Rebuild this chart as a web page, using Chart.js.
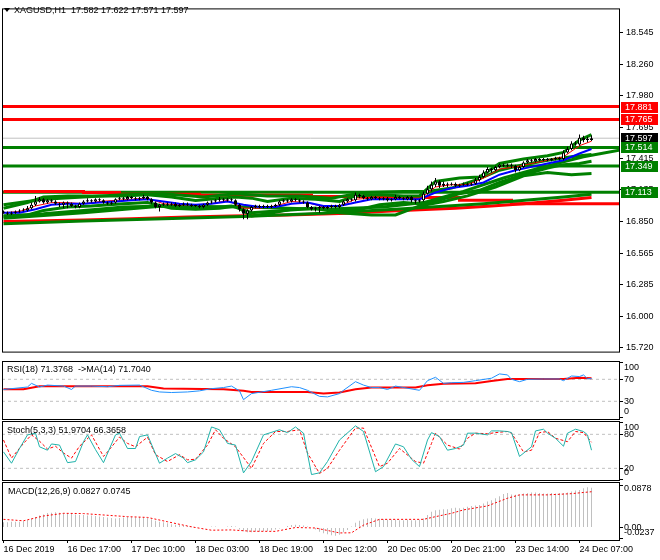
<!DOCTYPE html>
<html>
<head>
<meta charset="utf-8">
<title>XAGUSD H1</title>
<script src="https://cdn.jsdelivr.net/npm/chart.js@4.4.1/dist/chart.umd.min.js"></script>
<style>
  html, body { margin: 0; padding: 0; background: #fff; }
  #wrap { position: relative; width: 660px; height: 560px; overflow: hidden; font-family: 'Liberation Sans', Arial, sans-serif; }
  #wrap canvas { position: absolute; left: 0; }
  .cap { position: absolute; font-size: 9px; line-height: 11px; color: #000; white-space: pre; z-index: 2; }
  .tri { position: absolute; left: 4px; top: 8px; width: 0; height: 0; border-left: 3px solid transparent; border-right: 3px solid transparent; border-top: 4px solid #000; z-index: 2; }
</style>
</head>
<body>
<div id="wrap">
  <canvas id="mainChart" width="660" height="360" style="top:0"></canvas>
  <canvas id="rsiChart" width="660" height="60" style="top:360px"></canvas>
  <canvas id="stochChart" width="660" height="61" style="top:420px"></canvas>
  <canvas id="macdChart" width="660" height="79" style="top:481px"></canvas>
  <div class="tri"></div>
  <div class="cap" style="left:14px;top:5px">XAGUSD,H1  17.582 17.622 17.571 17.597</div>
  <div class="cap" style="left:7px;top:364px">RSI(18) 71.3768  -&gt;MA(14) 71.7040</div>
  <div class="cap" style="left:7px;top:425px">Stoch(5,3,3) 51.9704 66.3658</div>
  <div class="cap" style="left:8px;top:486px">MACD(12,26,9) 0.0827 0.0745</div>
</div>
<script>
Chart.defaults.font.family = "'Liberation Sans', Arial, sans-serif";
Chart.defaults.font.size = 9;
Chart.defaults.color = '#000';

var FONT = "9px 'Liberation Sans', Arial, sans-serif";
var RED = '#ff0000', GREEN = '#008000', BLUE = '#0000ff', SILVER = '#c0c0c0';
var X_MIN = -0.375, X_MAX = 153.875;

// time axis (bar index of each label)
var timeIdx = [0, 16, 32, 48, 64, 80, 96, 112, 128, 144];
var timeLabels = ['16 Dec 2019', '16 Dec 17:00', '17 Dec 10:00', '18 Dec 03:00', '18 Dec 19:00',
    '19 Dec 12:00', '20 Dec 05:00', '20 Dec 21:00', '23 Dec 14:00', '24 Dec 07:00'];

// price axis
var priceTicks = [18.545, 18.260, 17.980, 17.695, 17.415, 17.135, 16.850, 16.565, 16.285, 16.000, 15.720];

// H1 candles
var opens = [
    16.94, 16.93, 16.92, 16.93, 16.94, 16.95, 16.95, 16.97, 17.00, 17.03,
    17.05, 17.02, 17.04, 17.03, 17.01, 17.00, 17.02, 17.01, 16.99, 16.98,
    17.01, 17.03, 17.04, 17.03, 17.05, 17.04, 17.02, 17.01, 17.02, 17.05,
    17.06, 17.05, 17.07, 17.06, 17.05, 17.06, 17.07, 17.05, 17.02, 16.98,
    17.00, 17.01, 17.00, 17.01, 16.99, 17.00, 17.01, 17.00, 16.99, 16.99,
    16.98, 17.00, 17.02, 17.03, 17.04, 17.05, 17.04, 17.05, 17.04, 17.00,
    16.96, 16.92, 16.95, 16.98, 16.99, 16.98, 16.99, 16.98, 16.99, 17.00,
    17.03, 17.04, 17.03, 17.05, 17.04, 17.03, 17.02, 16.98, 16.96, 16.97,
    16.98, 16.97, 16.98, 16.99, 16.98, 17.00, 17.03, 17.05, 17.04, 17.09,
    17.08, 17.06, 17.05, 17.07, 17.06, 17.05, 17.06, 17.04, 17.05, 17.07,
    17.06, 17.05, 17.07, 17.04, 17.03, 17.04, 17.10, 17.14, 17.18, 17.21,
    17.17, 17.19, 17.18, 17.19, 17.17, 17.18, 17.19, 17.18, 17.19, 17.22,
    17.25, 17.29, 17.32, 17.31, 17.34, 17.36, 17.35, 17.36, 17.35, 17.31,
    17.34, 17.38, 17.40, 17.39, 17.41, 17.40, 17.41, 17.40, 17.41, 17.42,
    17.41, 17.47, 17.50, 17.55, 17.54, 17.60, 17.58, 17.582];
var highs = [
    16.95, 16.94, 16.94, 16.95, 16.96, 16.97, 16.99, 17.02, 17.08, 17.07,
    17.06, 17.05, 17.05, 17.04, 17.02, 17.03, 17.03, 17.02, 17.00, 17.02,
    17.04, 17.06, 17.05, 17.06, 17.06, 17.05, 17.03, 17.03, 17.06, 17.07,
    17.07, 17.08, 17.08, 17.07, 17.07, 17.09, 17.08, 17.06, 17.03, 17.01,
    17.02, 17.02, 17.02, 17.02, 17.01, 17.02, 17.02, 17.01, 17.00, 17.00,
    17.01, 17.03, 17.04, 17.05, 17.07, 17.06, 17.06, 17.06, 17.05, 17.01,
    16.97, 16.96, 16.99, 17.00, 17.00, 17.00, 17.00, 17.00, 17.01, 17.04,
    17.05, 17.05, 17.06, 17.06, 17.05, 17.04, 17.03, 16.99, 16.98, 16.99,
    16.99, 16.99, 17.00, 17.00, 17.01, 17.04, 17.06, 17.06, 17.11, 17.10,
    17.09, 17.07, 17.08, 17.08, 17.07, 17.07, 17.07, 17.06, 17.09, 17.08,
    17.07, 17.08, 17.08, 17.05, 17.05, 17.12, 17.17, 17.21, 17.24, 17.22,
    17.21, 17.20, 17.20, 17.20, 17.19, 17.20, 17.20, 17.20, 17.24, 17.27,
    17.31, 17.34, 17.33, 17.35, 17.37, 17.37, 17.37, 17.37, 17.36, 17.35,
    17.39, 17.41, 17.41, 17.42, 17.42, 17.42, 17.42, 17.42, 17.43, 17.43,
    17.49, 17.52, 17.57, 17.57, 17.63, 17.62, 17.61, 17.622];
var lows = [
    16.92, 16.91, 16.91, 16.92, 16.93, 16.94, 16.94, 16.96, 16.99, 17.02,
    17.01, 17.01, 17.02, 17.00, 16.98, 16.97, 16.97, 16.98, 16.97, 16.97,
    17.00, 17.02, 17.02, 17.02, 17.03, 17.01, 17.00, 17.00, 17.01, 17.04,
    17.04, 17.04, 17.05, 17.04, 17.04, 17.05, 17.04, 17.01, 16.97, 16.94,
    16.99, 16.99, 16.99, 16.98, 16.98, 16.99, 16.99, 16.98, 16.98, 16.97,
    16.97, 16.99, 17.01, 17.02, 17.03, 17.03, 17.03, 17.03, 16.99, 16.94,
    16.87, 16.87, 16.94, 16.97, 16.97, 16.97, 16.97, 16.97, 16.98, 16.99,
    17.02, 17.02, 17.02, 17.03, 17.02, 17.01, 16.97, 16.95, 16.94, 16.93,
    16.96, 16.96, 16.97, 16.97, 16.97, 16.99, 17.02, 17.03, 17.03, 17.06,
    17.05, 17.04, 17.04, 17.05, 17.04, 17.04, 17.03, 17.03, 17.04, 17.05,
    17.04, 17.04, 17.02, 17.01, 17.02, 17.03, 17.09, 17.12, 17.16, 17.15,
    17.16, 17.16, 17.17, 17.16, 17.16, 17.17, 17.17, 17.17, 17.18, 17.21,
    17.24, 17.28, 17.29, 17.30, 17.33, 17.34, 17.34, 17.33, 17.29, 17.30,
    17.33, 17.37, 17.38, 17.38, 17.39, 17.39, 17.39, 17.39, 17.40, 17.40,
    17.40, 17.46, 17.49, 17.53, 17.53, 17.56, 17.56, 17.571];
var closes = [
    16.93, 16.92, 16.93, 16.94, 16.95, 16.95, 16.97, 17.00, 17.03, 17.05,
    17.02, 17.04, 17.03, 17.01, 17.00, 17.02, 17.01, 16.99, 16.98, 17.01,
    17.03, 17.04, 17.03, 17.05, 17.04, 17.02, 17.01, 17.02, 17.05, 17.06,
    17.05, 17.07, 17.06, 17.05, 17.06, 17.07, 17.05, 17.02, 16.98, 17.00,
    17.01, 17.00, 17.01, 16.99, 17.00, 17.01, 17.00, 16.99, 16.99, 16.98,
    17.00, 17.02, 17.03, 17.04, 17.05, 17.04, 17.05, 17.04, 17.00, 16.96,
    16.92, 16.95, 16.98, 16.99, 16.98, 16.99, 16.98, 16.99, 17.00, 17.03,
    17.04, 17.03, 17.05, 17.04, 17.03, 17.02, 16.98, 16.96, 16.97, 16.98,
    16.97, 16.98, 16.99, 16.98, 17.00, 17.03, 17.05, 17.04, 17.09, 17.08,
    17.06, 17.05, 17.07, 17.06, 17.05, 17.06, 17.04, 17.05, 17.07, 17.06,
    17.05, 17.07, 17.04, 17.03, 17.04, 17.10, 17.14, 17.18, 17.21, 17.17,
    17.19, 17.18, 17.19, 17.17, 17.18, 17.19, 17.18, 17.19, 17.22, 17.25,
    17.29, 17.32, 17.31, 17.34, 17.36, 17.35, 17.36, 17.35, 17.31, 17.34,
    17.38, 17.40, 17.39, 17.41, 17.40, 17.41, 17.40, 17.41, 17.42, 17.41,
    17.47, 17.50, 17.55, 17.54, 17.60, 17.58, 17.582, 17.597];
var lastPrice = 17.597;

// horizontal levels and price tags
var levelValues = [17.881, 17.765, 17.514, 17.349, 17.113];
var levelColors = [RED, RED, GREEN, GREEN, GREEN];
var tagValues = [17.881, 17.765, 17.597, 17.514, 17.349, 17.113];
var tagColors = [RED, RED, '#000', GREEN, GREEN, GREEN];

// moving averages (bar index / value)
var maIdx = [0, 4, 8, 12, 16, 20, 24, 28, 32, 36, 40, 44, 48, 52, 56, 60, 64, 68, 72, 76,
    80, 84, 88, 92, 96, 100, 104, 108, 112, 116, 120, 124, 128, 132, 136, 140, 144, 147];
var maFast = [16.93, 16.94, 16.99, 17.02, 17.02, 17.01, 17.03, 17.04, 17.05, 17.06,
    17.01, 17.00, 17.00, 17.01, 17.04, 16.97, 16.97, 16.99, 17.03, 17.02,
    16.98, 16.99, 17.05, 17.06, 17.05, 17.05, 17.05, 17.16, 17.18, 17.18,
    17.24, 17.32, 17.34, 17.37, 17.40, 17.43, 17.53, 17.57];
var maSlow = [16.93, 16.93, 16.96, 17.00, 17.01, 17.01, 17.02, 17.03, 17.04, 17.05,
    17.03, 17.01, 17.00, 17.01, 17.03, 17.00, 16.98, 16.98, 17.01, 17.02,
    16.99, 16.99, 17.02, 17.05, 17.05, 17.05, 17.05, 17.11, 17.15, 17.17,
    17.20, 17.27, 17.31, 17.34, 17.37, 17.40, 17.46, 17.50];

// fast bands
var bandIdx = [0, 6, 10, 16, 22, 30, 36, 42, 48, 54, 58, 62, 66, 72, 78, 84, 88, 94, 100, 104,
    108, 114, 119, 124, 130, 136, 140, 144, 147];
var bandUp = [16.97, 17.02, 17.07, 17.08, 17.08, 17.08, 17.09, 17.07, 17.04, 17.06,
    17.07, 17.06, 17.03, 17.06, 17.05, 17.03, 17.08, 17.09, 17.08, 17.08,
    17.21, 17.24, 17.25, 17.37, 17.41, 17.44, 17.47, 17.58, 17.63];
var bandDn = [16.90, 16.91, 16.95, 16.98, 16.99, 17.01, 17.02, 16.97, 16.96, 16.97,
    16.99, 16.90, 16.92, 16.96, 16.97, 16.95, 16.95, 17.00, 17.02, 17.01,
    17.03, 17.10, 17.13, 17.20, 17.27, 17.33, 17.36, 17.37, 17.39];

// slow bands
var slowUpIdx = [0, 10, 20, 30, 40, 50, 58, 66, 74, 82, 90, 100, 106, 112, 118, 124, 130, 136, 142, 147];
var slowUp = [17.00, 17.05, 17.07, 17.09, 17.10, 17.07, 17.10, 17.08, 17.08, 17.06,
    17.11, 17.12, 17.12, 17.15, 17.22, 17.31, 17.36, 17.40, 17.43, 17.45];
var slowDnIdx = [0, 10, 20, 30, 40, 50, 57, 62, 70, 78, 84, 92, 98, 104, 110, 116, 123, 130, 136, 142, 147];
var slowDn = [16.90, 16.92, 16.95, 16.98, 16.99, 16.97, 16.99, 16.93, 16.95, 16.97,
    16.93, 16.91, 16.91, 16.99, 17.03, 17.08, 17.16, 17.26, 17.29, 17.27, 17.28];

// shifted line running past the last bar
var shiftIdx = [0, 20, 40, 60, 80, 95, 105, 115, 125, 135, 145, 154];
var shiftVals = [16.88, 16.93, 16.99, 16.98, 16.96, 16.98, 17.02, 17.12, 17.24, 17.34, 17.43, 17.49];

// long-period lines
var baseGreenIdx = [0, 20, 40, 60, 80, 100, 120, 140, 147];
var baseGreen = [16.83, 16.855, 16.875, 16.895, 16.925, 16.965, 17.01, 17.07, 17.095];
var baseRedIdx = [0, 20, 32, 46, 57, 71, 86, 97, 104, 113, 122, 130, 140, 147];
var baseRed = [16.85, 16.865, 16.875, 16.89, 16.90, 16.91, 16.925, 16.945, 16.955, 16.97, 16.99, 17.01, 17.04, 17.065];
var stepRedIdx = [0, 20, 29, 49, 77, 94, 114, 127, 154];
var stepRed = [17.12, 17.11, 17.095, 17.085, 17.075, 17.065, 17.04, 17.01, 17.01];

// RSI(18) and its MA(14)
var rsiIdx = [0, 6, 7, 9, 11, 15, 17, 18, 22, 26, 29, 34, 37, 39, 42, 46, 49, 52, 55, 57,
    59, 60, 62, 67, 72, 74, 76, 79, 81, 84, 85, 88, 90, 92, 94, 96, 98, 100, 104, 106,
    108, 110, 112, 115, 118, 122, 124, 126, 127, 129, 131, 135, 139, 140, 142, 144, 145, 146, 147];
var rsiVals = [51.5, 56, 62.6, 56, 59.5, 57.7, 51.5, 57.7, 57.7, 56.5, 59, 59.5, 50, 47, 46, 47, 49, 53, 55, 57.7,
    49, 33, 44, 50, 56.5, 55, 50, 39, 38, 44, 50, 65.7, 59.5, 55, 55, 51.5, 57.7, 55, 50, 67.5,
    73.7, 62.6, 63.8, 64.4, 67.5, 72, 79.8, 78, 70, 65.7, 70, 70.6, 70.6, 67.5, 76, 75, 78, 71, 71.4];
var rsiMaIdx = [0, 5, 9, 36, 40, 55, 60, 62, 76, 80, 84, 88, 92, 103, 106, 110, 118, 122, 126, 140, 144, 147];
var rsiMaVals = [52, 52, 57.5, 57.5, 53.5, 52, 49, 47, 47, 44, 46, 52, 55, 55, 59, 62, 63, 67, 70.5, 70.5, 73, 71.7];
var rsiLevels = [70, 30];
var rsiTicks = [100, 70, 30, 0];

// Stochastic(5,3,3)
var stochIdx = [0, 2, 4, 6, 8, 9, 11, 12, 14, 16, 18, 20, 21, 23, 25, 28, 29, 31, 33, 34,
    36, 39, 41, 43, 45, 46, 48, 50, 52, 54, 56, 58, 60, 62, 65, 69, 71, 73, 75, 77,
    79, 81, 84, 88, 90, 93, 95, 98, 100, 102, 104, 106, 107, 109, 111, 113, 115, 116, 118, 121,
    122, 124, 126, 127, 129, 132, 133, 135, 136, 138, 140, 141, 143, 145, 146, 147];
var stochMain = [49, 29, 55, 79, 82, 58, 52, 63, 61, 30, 32, 67, 79, 53, 30, 79, 82, 55, 55, 76,
    79, 29, 38, 46, 38, 30, 35, 49, 93, 88, 64, 61, 12, 32, 79, 88, 83, 93, 82, 9,
    12, 32, 70, 95, 85, 14, 23, 63, 58, 36, 23, 70, 83, 76, 52, 55, 61, 82, 82, 79,
    86, 86, 85, 83, 41, 58, 86, 89, 82, 73, 59, 82, 89, 85, 79, 52];
var stochSigIdx = [0, 2, 5, 7, 9, 11, 13, 15, 17, 19, 22, 25, 26, 29, 31, 33, 36, 38, 41, 44,
    46, 48, 51, 53, 55, 58, 62, 65, 68, 71, 74, 76, 79, 81, 84, 88, 90, 94, 96, 99,
    103, 105, 107, 108, 111, 114, 116, 118, 121, 123, 126, 127, 130, 132, 134, 136, 138, 141, 143, 145, 147];
var stochSig = [70, 38, 64, 79, 68, 54, 59, 47, 38, 59, 79, 41, 49, 75, 64, 58, 75, 44, 32, 44,
    35, 36, 61, 88, 73, 58, 20, 64, 85, 85, 88, 47, 11, 20, 52, 91, 91, 23, 29, 55,
    32, 29, 64, 82, 61, 54, 73, 82, 81, 83, 85, 82, 49, 52, 83, 85, 73, 67, 85, 83, 66];
var stochLevels = [80, 20];
var stochTicks = [100, 80, 20, 0];

// MACD(12,26,9): histogram per bar and signal
var macdHist = [
    0.011, 0.011, 0.012, 0.012, 0.012, 0.013, 0.015, 0.018, 0.022, 0.025,
    0.027, 0.030, 0.031, 0.032, 0.031, 0.030, 0.029, 0.028, 0.027, 0.026,
    0.026, 0.025, 0.025, 0.024, 0.023, 0.022, 0.021, 0.020, 0.019, 0.020,
    0.021, 0.022, 0.022, 0.021, 0.022, 0.021, 0.020, 0.017, 0.014, 0.012,
    0.011, 0.009, 0.007, 0.006, 0.005, 0.004, 0.003, 0.002, 0.001, 0.000,
    0.000, 0.001, 0.002, 0.002, 0.001, 0.000, 0.002, 0.003, 0.002, -0.004,
    -0.008, -0.010, -0.010, -0.009, -0.009, -0.008, -0.007, -0.006, -0.004, -0.002,
    0.000, 0.003, 0.005, 0.006, 0.005, 0.004, 0.002, 0.000, -0.004, -0.009,
    -0.012, -0.014, -0.016, -0.017, -0.015, -0.010, -0.005, 0.002, 0.010, 0.014,
    0.017, 0.019, 0.020, 0.019, 0.018, 0.017, 0.016, 0.016, 0.016, 0.015,
    0.015, 0.016, 0.015, 0.015, 0.016, 0.019, 0.026, 0.033, 0.036, 0.037,
    0.038, 0.038, 0.040, 0.041, 0.040, 0.041, 0.043, 0.045, 0.046, 0.047,
    0.050, 0.054, 0.057, 0.061, 0.065, 0.070, 0.072, 0.069, 0.068, 0.069,
    0.071, 0.072, 0.073, 0.073, 0.072, 0.071, 0.071, 0.072, 0.071, 0.072,
    0.072, 0.073, 0.075, 0.077, 0.078, 0.082, 0.084, 0.0827];
var macdSigIdx = [0, 5, 10, 15, 20, 31, 36, 41, 47, 52, 57, 62, 68, 73, 78, 84, 87, 90, 94, 105,
    108, 112, 115, 121, 126, 129, 136, 142, 145, 147];
var macdSig = [0.017, 0.014, 0.024, 0.0296, 0.029, 0.0226, 0.021, 0.012, 0.0014, -0.0056,
    -0.005, -0.0078, -0.008, 0.000, -0.001, -0.0113, -0.011, 0.005, 0.017, 0.017,
    0.0226, 0.0296, 0.0367, 0.045, 0.061, 0.068, 0.068, 0.0705, 0.073, 0.0745];
var macdTicks = [0.0878, 0, -0.0237];
var macdTickText = ['0.0878', '0.00', '-0.0237'];

/**
 * helpers
 */
function pts(xs, ys) {
    return xs.map(function (x, i) { return { x: x, y: ys[i] }; });
}

function lineSet(xs, ys, color, width, order, extra) {
    var ds = {
        type: 'line',
        data: pts(xs, ys),
        borderColor: color,
        borderWidth: width,
        pointRadius: 0,
        fill: false,
        tension: 0,
        order: order
    };
    return Object.assign(ds, extra || {});
}

function hiddenX() {
    return { type: 'linear', min: X_MIN, max: X_MAX, offset: false, grid: { offset: false }, display: false };
}

function rightAxis(min, max, tickValues, showLabels) {
    return {
        position: 'right',
        min: min,
        max: max,
        afterBuildTicks: function (s) {
            s.ticks = tickValues.map(function (v) { return { value: v }; });
        },
        afterFit: function (s) { s.width = 41; },
        grid: { drawOnChartArea: false, drawTicks: true, tickLength: 4, color: '#000' },
        border: { display: false },
        ticks: {
            display: showLabels,
            padding: 3,
            autoSkip: false,
            color: '#000',
            font: { size: 9 },
            callback: function (v) { return v.toFixed(3); }
        }
    };
}

var framePlugin = {
    id: 'frame',
    afterDraw: function (chart) {
        var a = chart.chartArea, ctx = chart.ctx;
        ctx.save();
        ctx.strokeStyle = '#000';
        ctx.lineWidth = 1;
        ctx.strokeRect(a.left + 0.5, a.top + 0.5, a.right - a.left, a.bottom - a.top);
        ctx.restore();
    }
};

var tagPlugin = {
    id: 'tags',
    afterDraw: function (chart) {
        var s = chart.scales.y, a = chart.chartArea, ctx = chart.ctx;
        ctx.save();
        ctx.font = FONT;
        ctx.textBaseline = 'middle';
        tagValues.forEach(function (v, i) {
            var py = Math.round(s.getPixelForValue(v));
            ctx.fillStyle = tagColors[i];
            ctx.fillRect(a.right + 2, py - 5, 37, 11);
            ctx.fillStyle = '#fff';
            ctx.fillText(v.toFixed(3), a.right + 6, py + 0.5);
        });
        ctx.restore();
    }
};

// indicator scale labels are kept inside their panel
function sideLabels(values, texts) {
    return {
        id: 'sideLabels',
        afterDraw: function (chart) {
            var s = chart.scales.y, a = chart.chartArea, ctx = chart.ctx;
            ctx.save();
            ctx.font = FONT;
            ctx.fillStyle = '#000';
            ctx.textBaseline = 'middle';
            values.forEach(function (v, i) {
                var py = Math.min(Math.max(s.getPixelForValue(v), a.top + 7), a.bottom - 7);
                ctx.fillText(texts[i], a.right + 5, py);
            });
            ctx.restore();
        }
    };
}

var baseOptions = {
    responsive: false,
    animation: false,
    events: [],
    plugins: { legend: { display: false }, tooltip: { enabled: false } }
};

function options(padding, scales) {
    return Object.assign({}, baseOptions, { layout: { padding: padding }, scales: scales });
}

/**
 * Main price chart
 */
var mainSets = [];
levelValues.forEach(function (v, i) {
    mainSets.push(lineSet([X_MIN, X_MAX], [v, v], levelColors[i], 3, 6));
});
mainSets.push(lineSet([X_MIN, X_MAX], [lastPrice, lastPrice], SILVER, 1, 6));
mainSets.push(lineSet(baseGreenIdx, baseGreen, GREEN, 3, 5));
mainSets.push(lineSet(baseRedIdx, baseRed, RED, 3, 5));
mainSets.push(lineSet(stepRedIdx, stepRed, RED, 3, 5, { stepped: true }));
mainSets.push(lineSet(shiftIdx, shiftVals, GREEN, 3, 4));
mainSets.push(lineSet(slowUpIdx, slowUp, GREEN, 3, 4));
mainSets.push(lineSet(slowDnIdx, slowDn, GREEN, 3, 4));
mainSets.push(lineSet(bandIdx, bandUp, GREEN, 3, 3));
mainSets.push(lineSet(bandIdx, bandDn, GREEN, 3, 3));
mainSets.push(lineSet(maIdx, maSlow, BLUE, 2, 2));
mainSets.push(lineSet(maIdx, maFast, RED, 1, 2));
mainSets.push({
    type: 'bar',
    data: closes.map(function (c, i) { return { x: i, y: [lows[i], highs[i]] }; }),
    backgroundColor: '#000',
    borderWidth: 0,
    barThickness: 1,
    maxBarThickness: 1,
    grouped: false,
    inflateAmount: 0,
    order: 1
});
mainSets.push({
    type: 'bar',
    data: closes.map(function (c, i) { return { x: i, y: [opens[i], c] }; }),
    backgroundColor: closes.map(function (c, i) { return c >= opens[i] ? '#fff' : '#000'; }),
    borderColor: '#000',
    borderWidth: 1,
    borderSkipped: false,
    barThickness: 3,
    maxBarThickness: 3,
    minBarLength: 1,
    grouped: false,
    inflateAmount: 0,
    order: 0
});

new Chart(document.getElementById('mainChart'), {
    type: 'line',
    data: { datasets: mainSets },
    options: options({ left: 2, top: 1, right: 0, bottom: 2 }, {
        x: hiddenX(),
        y: rightAxis(15.685, 18.760, priceTicks, true)
    }),
    plugins: [framePlugin, tagPlugin]
});

/**
 * RSI
 */
var rsiSets = rsiLevels.map(function (v) {
    return lineSet([X_MIN, X_MAX], [v, v], SILVER, 1, 3, { borderDash: [3, 3] });
});
rsiSets.push(lineSet(rsiMaIdx, rsiMaVals, RED, 2, 1));
rsiSets.push(lineSet(rsiIdx, rsiVals, '#1e90ff', 1, 0));

new Chart(document.getElementById('rsiChart'), {
    type: 'line',
    data: { datasets: rsiSets },
    options: options({ left: 2, top: 1, right: 0, bottom: 1 }, {
        x: hiddenX(),
        y: rightAxis(-2.2, 103.3, rsiTicks, false)
    }),
    plugins: [framePlugin, sideLabels(rsiTicks, rsiTicks.map(String))]
});

/**
 * Stochastic
 */
var stochSets = stochLevels.map(function (v) {
    return lineSet([X_MIN, X_MAX], [v, v], SILVER, 1, 3, { borderDash: [3, 3] });
});
stochSets.push(lineSet(stochSigIdx, stochSig, RED, 1, 1, { borderDash: [3, 2] }));
stochSets.push(lineSet(stochIdx, stochMain, '#20b2aa', 1, 0));

new Chart(document.getElementById('stochChart'), {
    type: 'line',
    data: { datasets: stochSets },
    options: options({ left: 2, top: 1, right: 0, bottom: 1 }, {
        x: hiddenX(),
        y: rightAxis(-0.6, 103.5, stochTicks, false)
    }),
    plugins: [framePlugin, sideLabels(stochTicks, stochTicks.map(String))]
});

/**
 * MACD with time axis
 */
var macdSets = [
    {
        type: 'bar',
        data: macdHist.map(function (v, i) { return { x: i, y: v }; }),
        backgroundColor: SILVER,
        borderWidth: 0,
        barThickness: 1,
        maxBarThickness: 1,
        grouped: false,
        inflateAmount: 0,
        order: 2
    },
    lineSet(macdSigIdx, macdSig, RED, 1, 0, { borderDash: [2, 2] })
];

new Chart(document.getElementById('macdChart'), {
    type: 'line',
    data: { datasets: macdSets },
    options: options({ left: 2, top: 1, right: 0, bottom: 0 }, {
        x: {
            type: 'linear',
            min: X_MIN,
            max: X_MAX,
            offset: false,
            position: 'bottom',
            afterBuildTicks: function (s) {
                s.ticks = timeIdx.map(function (v) { return { value: v }; });
            },
            afterFit: function (s) { s.height = 20; },
            grid: { offset: false, drawOnChartArea: false, drawTicks: true, tickLength: 3, color: '#000' },
            border: { display: false },
            ticks: {
                align: 'start',
                autoSkip: false,
                maxRotation: 0,
                padding: 1,
                color: '#000',
                font: { size: 9 },
                callback: function (v) { return timeLabels[timeIdx.indexOf(v)]; }
            }
        },
        y: rightAxis(-0.026, 0.0948, macdTicks, false)
    }),
    plugins: [framePlugin, sideLabels(macdTicks, macdTickText)]
});
</script>
</body>
</html>
